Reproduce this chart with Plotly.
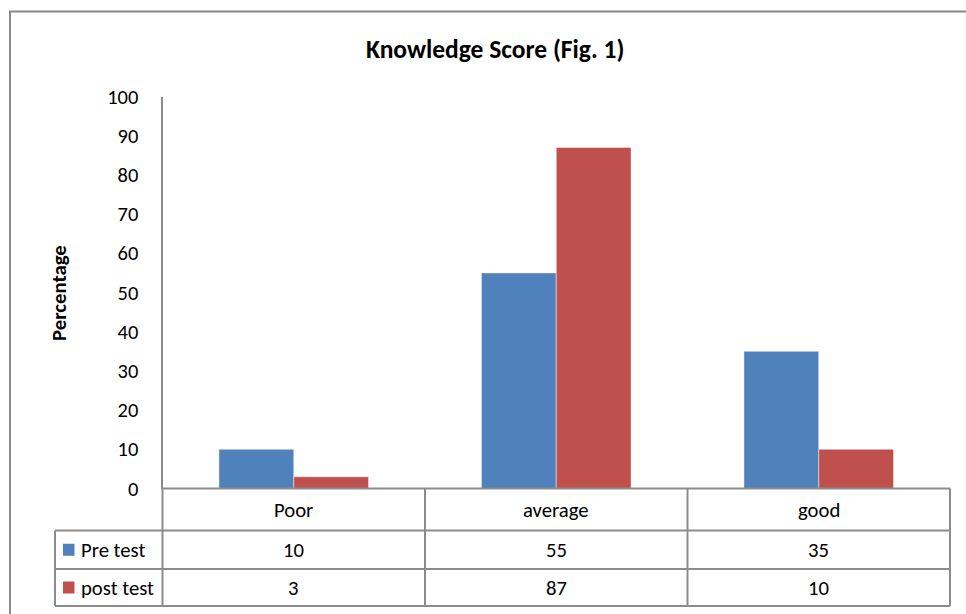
import plotly.graph_objects as go

categories = ["Poor", "average", "good"]
series_names = ["Pre test", "post test"]
pre_test = [10, 55, 35]
post_test = [3, 87, 10]
y_ticks = [0, 10, 20, 30, 40, 50, 60, 70, 80, 90, 100]

colors = ["#4F81BD", "#C0504D"]
W, H = 966, 614
FONT = "Carlito, Lato, sans-serif"
LINE = "#8c8c8c"


def X(px):
    return px / W


def Y(py):
    return 1 - py / H


plot_left, plot_right = 162.5, 950.0
plot_top, plot_bottom = 96.5, 488.5

fig = go.Figure()
for name, vals, col in zip(series_names, [pre_test, post_test], colors):
    fig.add_trace(go.Bar(
        x=categories, y=vals, name=name,
        marker=dict(color=col, line=dict(color="rgba(255,255,255,0.45)", width=1)),
        showlegend=False,
    ))

shapes = []
annotations = []

# outer chart border (cropped on right and bottom)
shapes.append(dict(type="rect", xref="paper", yref="paper",
                   x0=X(10), x1=X(980), y0=Y(630), y1=Y(11.5),
                   line=dict(color="#8a8a8a", width=2), fillcolor="rgba(0,0,0,0)"))

# data table
row_lines = [488.5, 530.5, 569, 606]
legend_left = 55
ncat = len(categories)
col_w = (plot_right - plot_left) / ncat
col_edges = [plot_left + i * col_w for i in range(ncat + 1)]

shapes.append(dict(type="line", xref="paper", yref="paper",
                   x0=X(plot_left), x1=X(plot_right), y0=Y(row_lines[0]), y1=Y(row_lines[0]),
                   line=dict(color=LINE, width=2)))
for ry in row_lines[1:]:
    shapes.append(dict(type="line", xref="paper", yref="paper",
                       x0=X(legend_left), x1=X(plot_right), y0=Y(ry), y1=Y(ry),
                       line=dict(color=LINE, width=2)))
for cx in col_edges:
    shapes.append(dict(type="line", xref="paper", yref="paper",
                       x0=X(cx), x1=X(cx), y0=Y(row_lines[0]), y1=Y(row_lines[-1]),
                       line=dict(color=LINE, width=2)))
shapes.append(dict(type="line", xref="paper", yref="paper",
                   x0=X(legend_left), x1=X(legend_left), y0=Y(row_lines[1]), y1=Y(row_lines[-1]),
                   line=dict(color=LINE, width=2)))

tfont = dict(family=FONT, size=20.7, color="#000000")
for i, cat in enumerate(categories):
    annotations.append(dict(xref="paper", yref="paper", x=X(col_edges[i] + col_w / 2),
                            y=Y((row_lines[0] + row_lines[1]) / 2), text=cat, showarrow=False,
                            font=tfont, xanchor="center", yanchor="middle"))
for r, (name, vals, col) in enumerate(zip(series_names, [pre_test, post_test], colors)):
    yc = (row_lines[r + 1] + row_lines[r + 2]) / 2
    shapes.append(dict(type="rect", xref="paper", yref="paper",
                       x0=X(63), x1=X(74.5), y0=Y(yc + 6), y1=Y(yc - 6),
                       fillcolor=col, line=dict(width=0)))
    annotations.append(dict(xref="paper", yref="paper", x=X(79), y=Y(yc), text=name,
                            showarrow=False, font=tfont, xanchor="left", yanchor="middle"))
    for i, v in enumerate(vals):
        annotations.append(dict(xref="paper", yref="paper", x=X(col_edges[i] + col_w / 2),
                                y=Y(yc), text=str(v), showarrow=False, font=tfont,
                                xanchor="center", yanchor="middle"))

annotations.append(dict(xref="paper", yref="paper", x=X(495), y=Y(49),
                        text="<b>Knowledge Score (Fig. 1)</b>", showarrow=False,
                        font=dict(family=FONT, size=25.5, color="#000000"),
                        xanchor="center", yanchor="middle"))
annotations.append(dict(xref="paper", yref="paper", x=X(59), y=Y(293),
                        text="<b>Percentage</b>", showarrow=False, textangle=-90,
                        font=dict(family=FONT, size=20.8, color="#000000"),
                        xanchor="center", yanchor="middle"))

fig.update_layout(
    width=W, height=H,
    margin=dict(l=0, r=0, t=0, b=0, pad=0),
    paper_bgcolor="white", plot_bgcolor="white",
    template="none",
    barmode="group", bargap=0.43, bargroupgap=0,
    shapes=shapes, annotations=annotations,
    xaxis=dict(domain=[X(plot_left), X(plot_right)], range=[-0.5, ncat - 0.5],
               showticklabels=False, showline=False, showgrid=False, zeroline=False,
               ticks="", automargin=False, fixedrange=True),
    yaxis=dict(domain=[Y(plot_bottom), Y(plot_top)], range=[0, 100],
               tickvals=y_ticks, ticktext=[str(t) for t in y_ticks],
               showgrid=False, zeroline=False, showline=True, linecolor="#8a8a8a",
               linewidth=2, ticks="", ticklabelstandoff=18, automargin=False,
               tickfont=dict(family=FONT, size=20.5, color="#000000"), fixedrange=True),
)

fig.write_html("out.html", config={"displayModeBar": False},
               post_script="document.body.style.margin='0';document.body.style.overflow='hidden';")
